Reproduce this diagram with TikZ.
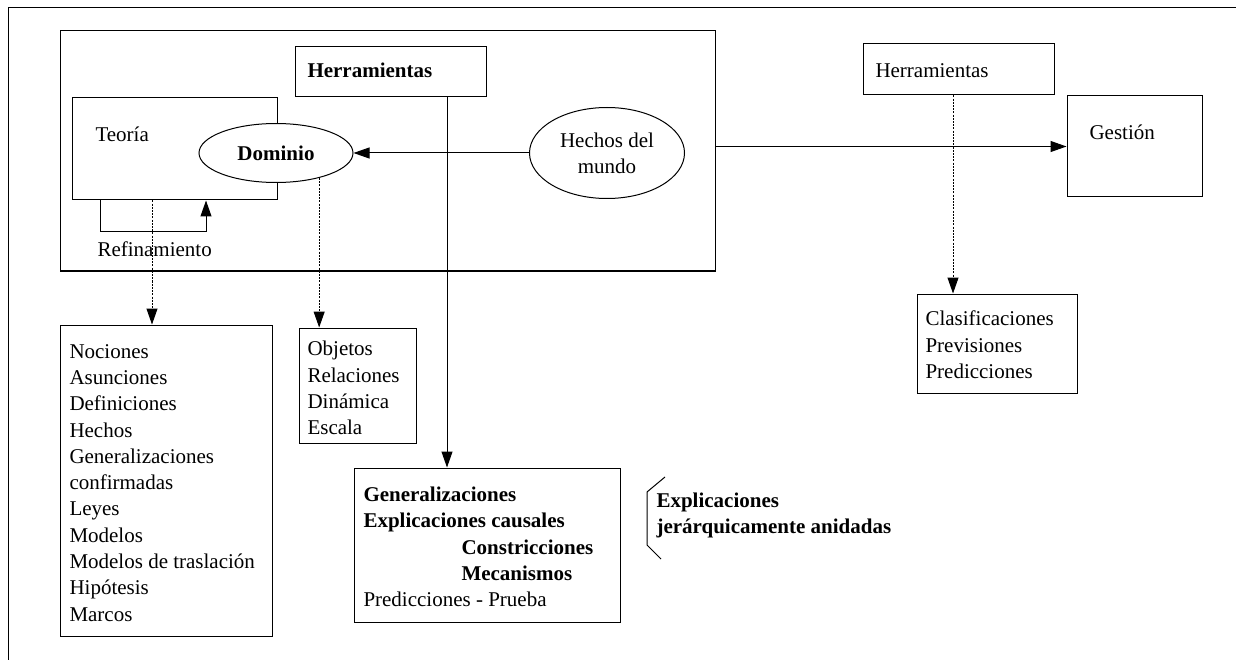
\documentclass[tikz,border=0pt]{standalone}
\usepackage{fontspec}
\setmainfont{Liberation Serif}
\usetikzlibrary{arrows.meta,shapes.geometric}
\def\dflecha{\draw[flecha]}
\def\dpunto{\draw[punto]}

\begin{document}
\begin{tikzpicture}[x=1pt,y=-1pt,line width=1pt,
    font=\fontsize{21}{26.3}\selectfont,
    caja/.style={draw,inner sep=0pt},
    ovalo/.style={draw,ellipse,fill=white,inner sep=0pt,align=center},
    txt/.style={inner sep=0pt,anchor=base west},
    lista/.style={inner sep=0pt,anchor=north west,align=left},
    flecha/.style={-{Triangle[length=16pt,width=11pt]}},
    punto/.style={flecha,dash pattern=on 2pt off 1.2pt}]
  \useasboundingbox (0,0) rectangle (1236,660);
  \draw (8,660) -- (8,8) -- (1236,8);

  \node[caja,minimum width=655,minimum height=240] (marco) at (387.5,151) {};
  \node[caja,minimum width=205,minimum height=102] (teoria) at (174.5,149) {};
  \node[txt] (lteoria) at (95,142) {Teoría};
  \node[ovalo,minimum width=154,minimum height=59] (dominio) at (276,153) {\textbf{Dominio}};
  \node[ovalo,minimum width=155,minimum height=91] (hechos) at (607,153) {Hechos del\\mundo};
  \node[caja,minimum width=191,minimum height=50] (herrb) at (390.5,72) {};
  \node[txt] (lherrb) at (307,78) {\textbf{Herramientas}};
  \node[txt] (lrefin) at (97,257) {Refinamiento};

  \node[caja,minimum width=191,minimum height=51] (herrr) at (958.5,69.5) {};
  \node[txt] (lherrr) at (875,78) {Herramientas};
  \node[caja,minimum width=135,minimum height=101] (gestion) at (1134.5,146.5) {};
  \node[txt] (lgestion) at (1089,140) {Gestión};

  \node[caja,minimum width=212,minimum height=311] (nociones) at (166,480.5) {};
  \node[lista] (lnociones) at (69,343.7) {Nociones\\Asunciones\\Definiciones\\Hechos\\Generalizaciones\\confirmadas\\Leyes\\Modelos\\Modelos de traslación\\Hipótesis\\Marcos};
  \node[caja,minimum width=117,minimum height=115] (objetos) at (357.5,385.5) {};
  \node[lista] (lobjetos) at (307,340.7) {Objetos\\Relaciones\\Dinámica\\Escala};
  \node[caja,minimum width=160,minimum height=99] (clasif) at (997,343.5) {};
  \node[lista] (lclasif) at (925,310.7) {Clasificaciones\\Previsiones\\Predicciones};
  \node[caja,minimum width=266,minimum height=154] (gen) at (487,545) {};
  \node[lista] (lgen) at (363,486.5) {\textbf{Generalizaciones}\\\textbf{Explicaciones causales}\\\hspace*{98pt}\textbf{Constricciones}\\\hspace*{98pt}\textbf{Mecanismos}\\Predicciones - Prueba};
  \node[lista,font=\fontsize{21}{26.3}\selectfont\bfseries] (lexpl) at (656,492.5) {Explicaciones\\jerárquicamente anidadas};
  \draw (665,477) -- (647,492) -- (647,545) -- (661,559);

  \dflecha (hechos) -- (dominio);
  \dflecha (marco.east |- gestion.west) -- (gestion.west);
  \dflecha ([xshift=-74.5pt]teoria.south) -- ++(0,31) -| ([xshift=31.5pt]teoria.south);
  \dpunto ([xshift=-14pt]nociones.north |- teoria.south) -- ([xshift=-14pt]nociones.north);
  \dpunto (dominio.-30) -- (dominio.-30 |- objetos.north);
  \dflecha ([xshift=-40pt]gen.north |- herrb.south) -- ([xshift=-40pt]gen.north);
  \dpunto ([xshift=-5.5pt]herrr.south) -- ([xshift=-5.5pt]herrr.south |- clasif.north);
\end{tikzpicture}
\end{document}
